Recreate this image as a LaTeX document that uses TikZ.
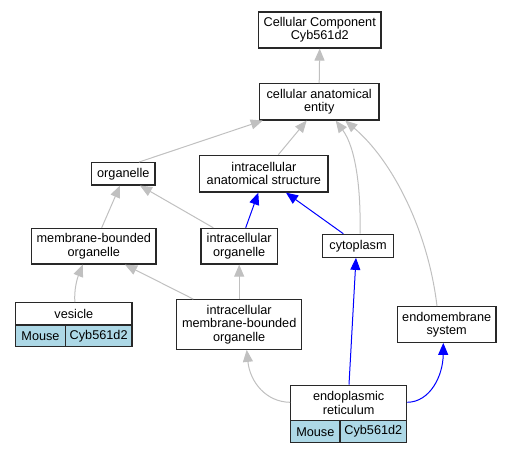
\documentclass[tikz,border=0pt]{standalone}
\usepackage{fontspec}
\setmainfont{Liberation Sans}
\usetikzlibrary{arrows.meta,calc}
\definecolor{edgegray}{RGB}{192,192,192}
\definecolor{cellblue}{RGB}{173,216,230}
\definecolor{boxline}{RGB}{40,40,40}
\begin{document}
\begin{tikzpicture}[x=1pt,y=-1pt,
  box/.style={draw=boxline,line width=1.2pt,fill=white,inner sep=0pt,align=center,
    font=\fontsize{12.7}{13.4}\selectfont},
  cell/.style={box,fill=cellblue},
  garr/.style={draw=edgegray,line width=1pt,-{Triangle[length=12pt,width=10pt,fill=edgegray]}},
  barr/.style={draw=blue,line width=1pt,-{Triangle[length=12pt,width=10pt,fill=blue]}}]
\useasboundingbox (0,0) rectangle (512,453);
% nodes
\node[box,minimum width=122.7pt,minimum height=36pt] (cc) at (319.7,30) {Cellular Component\\Cyb561d2};
\node[box,minimum width=119.7pt,minimum height=36.3pt] (cae) at (319.2,101.8) {cellular anatomical\\entity};
\node[box,minimum width=128.3pt,minimum height=36.7pt] (ias) at (263.9,173.7) {intracellular\\anatomical structure};
\node[box,minimum width=63.3pt,minimum height=22.3pt] (org) at (123.3,173.8) {organelle};
\node[box,minimum width=70.6pt,minimum height=23pt] (cyto) at (358,245.8) {cytoplasm};
\node[box,minimum width=76.3pt,minimum height=35.7pt] (io) at (239.2,246.2) {intracellular\\organelle};
\node[box,minimum width=124.3pt,minimum height=35.7pt] (mbo) at (93.8,246.2) {membrane-bounded\\organelle};
\node[box,minimum width=125pt,minimum height=49.6pt] (imbo) at (239.2,324.5) {intracellular\\membrane-bounded\\organelle};
\node[box,minimum width=98.7pt,minimum height=35.6pt] (ems) at (446.7,324.5) {endomembrane\\system};
% vesicle table
\node[box,minimum width=116.3pt,minimum height=22.3pt] (ves) at (73.85,313.85) {vesicle};
\node[cell,minimum width=49.6pt,minimum height=21.7pt] (vesa) at (40.5,335.85) {Mouse};
\node[cell,minimum width=66.7pt,minimum height=21.7pt] (vesb) at (98.65,335.85) {Cyb561d2};
% ER table
\node[box,minimum width=116pt,minimum height=35.4pt] (er) at (348.7,403) {endoplasmic\\reticulum};
\node[cell,minimum width=49.3pt,minimum height=22pt] (era) at (315.35,431.7) {Mouse};
\node[cell,minimum width=66.7pt,minimum height=22pt] (erb) at (373.35,431.7) {Cyb561d2};
% edges
\draw[garr] (cae.north) -- (cc.south);
\draw[garr] ($(org.north)+(15.7,0)$) -- ($(cae.south west)+(4,0)$);
\draw[garr] ($(ias.north)+(14.4,0)$) -- ($(cae.south)+(-12.5,0)$);
\draw[garr] ($(cyto.north)+(2,0)$) .. controls (361,190) and (356,148) .. ($(cae.south)+(16.5,0)$);
\draw[garr] ($(ems.north)+(-9.7,0)$) .. controls (428,230) and (392,160) .. ($(cae.south)+(26,0)$);
\draw[barr] ($(io.north)+(6.5,0)$) -- ($(ias.south)+(-5.6,0)$);
\draw[barr] ($(cyto.north)+(-14.7,0)$) -- ($(ias.south)+(22.1,0)$);
\draw[garr] ($(io.north)+(-25.9,0)$) -- ($(org.south)+(16.7,0)$);
\draw[garr] ($(mbo.north)+(7.9,0)$) -- ($(org.south)+(-3.3,0)$);
\draw[garr] ($(ves.north)+(1,0)$) .. controls (74,290) and (77,279) .. ($(mbo.south)+(-11,0)$);
\draw[garr] ($(imbo.north)+(-45.9,0)$) -- ($(mbo.south)+(31.2,0)$);
\draw[garr] (imbo.north) -- (io.south);
\draw[garr] ($(er.west)+(0,-0.7)$) .. controls (266,402) and (250,382) .. ($(imbo.south)+(7.5,0)$);
\draw[barr] ($(er.north)+(0.3,0)$) -- ($(cyto.south)+(-2,0)$);
\draw[barr] ($(er.east)+(0,-0.7)$) .. controls (430,402) and (443,376) .. ($(ems.south)+(-3.4,0)$);
\end{tikzpicture}
\end{document}
